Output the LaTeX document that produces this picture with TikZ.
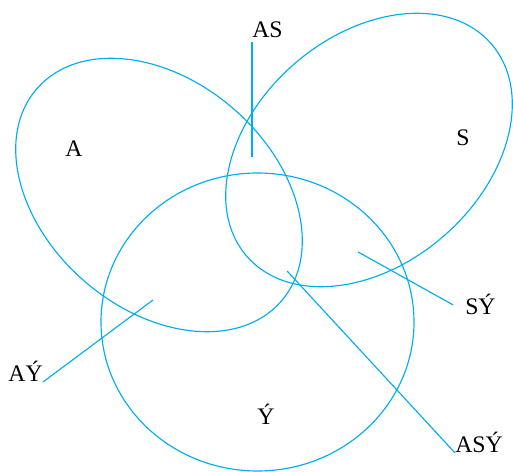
\documentclass[tikz,border=0pt]{standalone}
\usepackage{fontspec}
\setmainfont{Liberation Serif}
\definecolor{vennCyan}{RGB}{0,174,239}
\begin{document}
\begin{tikzpicture}[scale=0.02,
    vennSet/.style={draw=vennCyan,line width=0.65pt},
    vennLead/.style={draw=vennCyan,line width=0.65pt},
    vennLbl/.style={font=\fontsize{13.5}{15}\selectfont,inner sep=0pt},
]
\useasboundingbox (0,0) rectangle (513,472);
% Three sets
\draw[vennSet] (159,277) ellipse [x radius=162,y radius=114,rotate=-41];
\draw[vennSet] (369,322) ellipse [x radius=162,y radius=114,rotate=41];
\draw[vennSet] (257.5,150) ellipse [x radius=156.5,y radius=149];
% Region labels
\node[vennLbl,anchor=base] (A) at (74,315) {A};
\node[vennLbl,anchor=base] (S) at (463,326) {S};
\node[vennLbl,anchor=base] (Y) at (266,47) {Ý};
% Labels with leader lines
\node[vennLbl,anchor=south west,inner ysep=2.3pt] (AS) at (252,430) {AS};
\node[vennLbl,anchor=base east] (AY) at (43,90) {AÝ};
\node[vennLbl,anchor=base west,inner xsep=6.8pt] (SY) at (453,157) {SÝ};
\node[vennLbl,anchor=base west] (ASY) at (455,19) {ASÝ};
\coordinate (asEnd) at (252,315);
\coordinate (ayEnd) at (153,172);
\coordinate (syEnd) at (358,220);
\coordinate (asyEnd) at (287,201);
\draw[vennLead] (AS.south west) -- (asEnd);
\draw[vennLead] (AY.base east) -- (ayEnd);
\draw[vennLead] (SY.west) -- (syEnd);
\draw[vennLead] (ASY.base west) -- (asyEnd);
\end{tikzpicture}
\end{document}
